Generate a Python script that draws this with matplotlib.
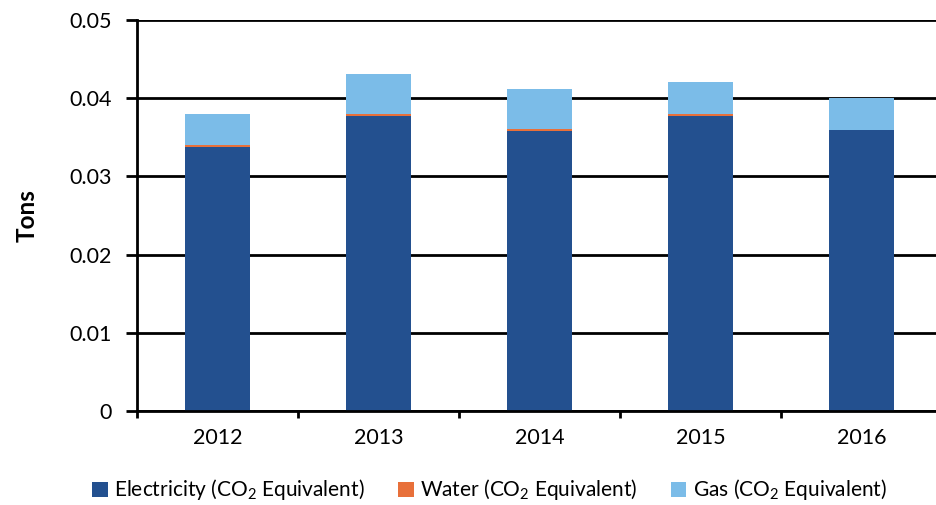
import numpy as np
import matplotlib
matplotlib.use("Agg")
import matplotlib.pyplot as plt
from matplotlib.ticker import FixedLocator

plt.rcParams["font.family"] = ["Lato", "DejaVu Sans"]
plt.rcParams["mathtext.fontset"] = "custom"
plt.rcParams["mathtext.rm"] = "Lato"
plt.rcParams["mathtext.it"] = "Lato"

years = ["2012", "2013", "2014", "2015", "2016"]
electricity = [0.03376, 0.03772, 0.0358, 0.0377, 0.0359]
water = [0.00026, 0.00026, 0.00026, 0.00026, 0.0]
gas = [0.00398, 0.00512, 0.00514, 0.00414, 0.0041]

series_labels = [
    "Electricity (CO$_2$ Equivalent)",
    "Water (CO$_2$ Equivalent)",
    "Gas (CO$_2$ Equivalent)",
]
colors = ["#23508F", "#E8703A", "#7BBCE8"]

fig = plt.figure(figsize=(9.36, 5.05), dpi=100)
ax = fig.add_axes([137 / 936, 94 / 505, 805 / 936, 391 / 505])

x = np.arange(len(years))
width = 0.40
elec = np.array(electricity)
wat = np.array(water)
g = np.array(gas)

ax.bar(x, elec, width, color=colors[0], label=series_labels[0], zorder=3)
ax.bar(x, wat, width, bottom=elec, color=colors[1], label=series_labels[1], zorder=3)
ax.bar(x, g, width, bottom=elec + wat, color=colors[2], label=series_labels[2], zorder=3)

ax.set_xlim(-0.5, len(years) - 0.5)
ax.set_ylim(0, 0.05)
ax.set_yticks([0, 0.01, 0.02, 0.03, 0.04, 0.05])
ax.set_yticklabels(["0", "0.01", "0.02", "0.03", "0.04", "0.05"])
ax.set_xticks(x)
ax.set_xticklabels(years)
ax.xaxis.set_minor_locator(FixedLocator(np.arange(-0.5, len(years), 1.0)))

ax.tick_params(axis="x", which="major", length=0, pad=12, labelsize=15.5)
ax.tick_params(axis="x", which="minor", length=5, width=2, direction="out")
ax.tick_params(axis="y", length=8, width=2, direction="out", pad=10, labelsize=15.5)

ax.grid(axis="y", color="black", linewidth=2, zorder=1)
for side in ["top", "right"]:
    ax.spines[side].set_visible(False)
ax.spines["left"].set_linewidth(2)
ax.spines["bottom"].set_linewidth(2)
ax.spines["bottom"].set_zorder(4)

fig.text(27 / 936, 1 - 216 / 505, "Tons", rotation=90, ha="center", va="center",
         fontsize=17.5, fontweight="bold")

fig.legend(loc="center", bbox_to_anchor=(0.523, 1 - 490 / 505), ncol=3, frameon=False,
           fontsize=15, handlelength=0.75, handleheight=0.75, handletextpad=0.3,
           columnspacing=1.6)

fig.savefig("out.png", dpi=100)
